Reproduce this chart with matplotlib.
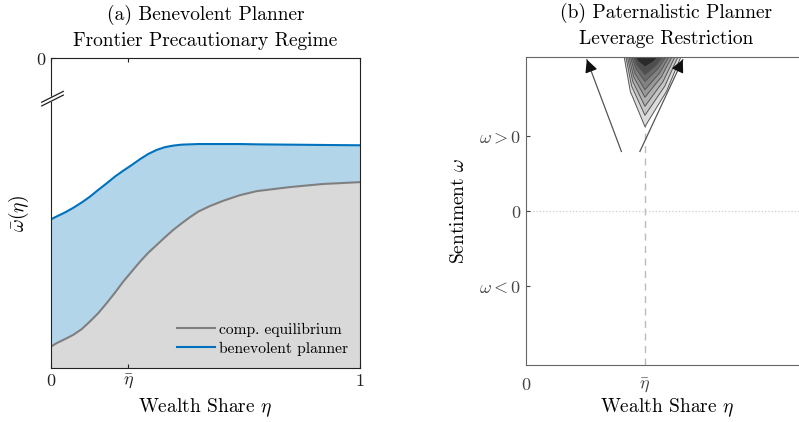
import numpy as np
import matplotlib
matplotlib.use('Agg')
import matplotlib.pyplot as plt

plt.rcParams['font.family'] = 'serif'
plt.rcParams['font.serif'] = ['cmr10', 'DejaVu Serif']
plt.rcParams['mathtext.fontset'] = 'cm'
plt.rcParams['axes.formatter.use_mathtext'] = True

# (a) wealth share grid and the two frontier curves
eta = [0.0, 0.018, 0.045, 0.072, 0.099, 0.126, 0.153, 0.180, 0.207, 0.234,
       0.261, 0.288, 0.315, 0.342, 0.369, 0.396, 0.423, 0.450, 0.477, 0.515,
       0.558, 0.612, 0.666, 0.773, 0.880, 1.0]
planner = [-0.520, -0.511, -0.498, -0.483, -0.466, -0.447, -0.425, -0.404, -0.382, -0.363,
           -0.345, -0.326, -0.309, -0.296, -0.287, -0.282, -0.279, -0.278, -0.277, -0.277,
           -0.277, -0.277, -0.278, -0.279, -0.280, -0.281]
comp_eq = [-0.931, -0.920, -0.907, -0.893, -0.875, -0.850, -0.823, -0.791, -0.757, -0.721,
           -0.689, -0.657, -0.628, -0.603, -0.578, -0.554, -0.533, -0.513, -0.495, -0.477,
           -0.460, -0.442, -0.429, -0.416, -0.406, -0.400]
eta_bar_a = 0.25

# (b) nested contour bands: tip height (omega), edges at mid height and at the top
eta_bar_b = 0.4
tip_omega = [1.12, 1.27, 1.39, 1.51, 1.61, 1.72, 1.81, 1.91]
top_left = [0.330, 0.336, 0.341, 0.346, 0.351, 0.356, 0.361, 0.366]
top_right = [0.521, 0.511, 0.501, 0.491, 0.481, 0.471, 0.461, 0.447]
mid_left = [0.351, 0.355, 0.359, 0.362, 0.366, 0.370, 0.374, 0.378]
mid_right = [0.472, 0.467, 0.461, 0.455, 0.449, 0.443, 0.437, 0.429]
band_grey = ['#dcdcdc', '#c6c6c6', '#b0b0b0', '#999999', '#828282', '#6a6a6a', '#4e4e4e', '#2a2a2a']
arrow_from = [(0.321, 0.79), (0.383, 0.79)]
arrow_to = [(0.205, 2.01), (0.527, 2.01)]
omega_ticks = [-1, 0, 1]
omega_labels = [r'$\omega < 0$', '$0$', r'$\omega > 0$']

fig = plt.figure(figsize=(7.99, 4.22), dpi=100)

# ---------- panel (a)
ax1 = fig.add_axes([0.0638, 0.128, 0.3867, 0.734])
ax1.fill_between(eta, comp_eq, -1, color='#d9d9d9', lw=0)
ax1.fill(list(eta) + eta[::-1], list(planner) + comp_eq[::-1], color='#b3d5ea', lw=0)
ax1.plot(eta, comp_eq, color='#7f7f7f', lw=1.5, label='comp. equilibrium')
ax1.plot(eta, planner, color='#0072bd', lw=1.5, label='benevolent planner')
ax1.set_xlim(0, 1)
ax1.set_ylim(-1, 0)
ax1.set_xticks([0, eta_bar_a, 1])
ax1.set_xticklabels(['$0$', r'$\bar{\eta}$', '$1$'], fontsize=13)
ax1.set_yticks([0])
ax1.set_yticklabels(['$0$'], fontsize=13)
ax1.tick_params(direction='in', top=True, length=3, colors='#222222')
for s in ax1.spines.values():
    s.set_color('#222222')
ax1.set_xlabel(r'Wealth Share $\eta$', fontsize=14, labelpad=4)
ax1.set_ylabel(r'$\bar{\omega}(\eta)$', fontsize=14)
ax1.yaxis.set_label_coords(-0.065, 0.5)
ax1.set_title('(a) Benevolent Planner\nFrontier Precautionary Regime', fontsize=14, pad=9,
              linespacing=1.5)
ax1.legend(loc='lower right', frameon=False, fontsize=11.2, handlelength=2.4,
           handletextpad=0.25, labelspacing=0.3, borderaxespad=0.4)
# axis break mark on the left spine
ax1.fill([-0.03, 0.03, 0.03, -0.03], [0.846, 0.876, 0.888, 0.858],
         color='white', transform=ax1.transAxes, clip_on=False, zorder=5)
ax1.plot([-0.03, 0.04], [0.846, 0.881], color='#222222', lw=0.9,
         transform=ax1.transAxes, clip_on=False, zorder=6)
ax1.plot([-0.03, 0.04], [0.858, 0.893], color='#222222', lw=0.9,
         transform=ax1.transAxes, clip_on=False, zorder=6)

# ---------- panel (b)
ax2 = fig.add_axes([0.658, 0.134, 0.373, 0.732])
top = 2.05
ax2.set_xlim(0, 1)
ax2.set_ylim(-top, top)
ax2.axvline(eta_bar_b, color='#bbbbbb', lw=1.0, ls=(0, (5, 4)), zorder=1)
ax2.axhline(0, color='#cccccc', lw=0.9, ls=':', zorder=1)
for tip, l, ml, mr, r, c in zip(tip_omega, top_left, mid_left, mid_right, top_right, band_grey):
    mid = (tip + top) / 2
    ax2.fill([l, ml, eta_bar_b, mr, r], [top, mid, tip, mid, top], facecolor=c,
             edgecolor='#555555', lw=0.7, joinstyle='round', zorder=2)
for (x0, y0), (x1, y1) in zip(arrow_from, arrow_to):
    ax2.plot([x0, x1], [y0, y1], color='#555555', lw=0.9, zorder=3)
    ax2.annotate('', xy=(x1, y1), xytext=(x1 + 0.1 * (x0 - x1), y1 + 0.1 * (y0 - y1)),
                 arrowprops=dict(arrowstyle='-|>', mutation_scale=19,
                                 color='#111111', lw=0.9, shrinkA=0, shrinkB=0))
ax2.set_xticks([0, eta_bar_b])
ax2.set_xticklabels(['$0$', r'$\bar{\eta}$'], fontsize=13)
ax2.set_yticks(omega_ticks)
ax2.set_yticklabels(omega_labels, fontsize=13)
ax2.tick_params(axis='y', direction='in', length=3, colors='#444444')
ax2.tick_params(axis='x', direction='in', length=0, colors='#444444', pad=8)
ax2.spines['right'].set_visible(False)
for s in ['left', 'top', 'bottom']:
    ax2.spines[s].set_color('#666666')
ax2.set_xlabel(r'Wealth Share $\eta$', fontsize=14, labelpad=0)
ax2.xaxis.set_label_coords(0.474, -0.1)
ax2.set_ylabel(r'Sentiment $\omega$', fontsize=14, labelpad=8)
ax2.set_title('(b) Paternalistic Planner\nLeverage Restriction', fontsize=14, pad=9,
              linespacing=1.5, x=0.47)

fig.savefig('out.png', dpi=100)
